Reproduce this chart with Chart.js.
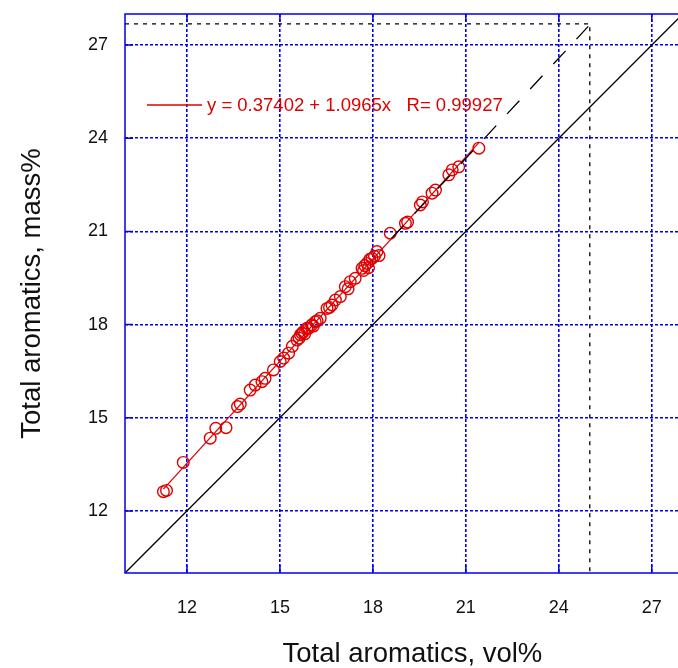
<!DOCTYPE html>
<html>
<head>
<meta charset="utf-8">
<script src="https://cdn.jsdelivr.net/npm/chart.js@4.4.0/dist/chart.umd.min.js"></script>
<style>
    html, body { margin: 0; padding: 0; background: #fff; overflow: hidden; }
    canvas { display: block; }
</style>
</head>
<body>
<canvas id="aromaticsChart" width="707" height="668"></canvas>
<script>
// measured samples: total aromatics vol% vs mass%
const volPct = [11.24, 11.34, 11.88, 12.75, 12.93, 13.26, 13.63, 13.72, 14.04, 14.20,
    14.42, 14.52, 14.79, 15.01, 15.12, 15.28, 15.40, 15.55, 15.62, 15.66,
    15.71, 15.76, 15.80, 15.87, 15.92, 16.03, 16.08, 16.14, 16.20, 16.30,
    16.52, 16.60, 16.68, 16.79, 16.95, 17.11, 17.20, 17.27, 17.43, 17.65,
    17.70, 17.74, 17.81, 17.86, 17.90, 17.97, 18.05, 18.13, 18.20, 18.56,
    19.05, 19.12, 19.53, 19.60, 19.91, 20.02, 20.45, 20.56, 20.77, 21.42];
const massPct = [12.62, 12.66, 13.56, 14.34, 14.66, 14.68, 15.36, 15.44, 15.89, 16.05,
    16.16, 16.27, 16.54, 16.81, 16.92, 17.08, 17.30, 17.50, 17.56, 17.67,
    17.72, 17.77, 17.70, 17.88, 17.88, 17.99, 17.95, 18.09, 18.12, 18.20,
    18.52, 18.55, 18.63, 18.79, 18.90, 19.22, 19.15, 19.38, 19.49, 19.81,
    19.74, 19.90, 19.97, 19.83, 20.10, 20.13, 20.20, 20.35, 20.22, 20.94,
    21.26, 21.30, 21.85, 21.95, 22.23, 22.33, 22.82, 22.98, 23.08, 23.68];

// regression line (red) and its extrapolation (black dashed)
const fitX = [11.24, 21.42];
const fitY = [12.70, 23.86];
const extX = [18.6, 24.95];
const extY = [20.77, 27.6];
// dotted guide lines read-off
const guideX = [10, 25, 25];
const guideY = [27.68, 27.68, 10];
// y = x reference
const diagX = [10, 28];
const diagY = [10, 28];

const tickValues = [12, 15, 18, 21, 24, 27];
const fitLabel = 'y = 0.37402 + 1.0965x   R= 0.99927';

const RED = '#e00000';
const BLUE = '#0000ee';
const FONT = "'Liberation Sans', Arial, sans-serif";

const toPoints = (xs, ys) => xs.map((v, i) => ({ x: v, y: ys[i] }));

// frame, inner ticks and the fit legend
const framePlugin = {
    id: 'frame',
    afterDraw(chart) {
        const { ctx, chartArea: a, scales: { x, y } } = chart;
        ctx.save();
        ctx.strokeStyle = BLUE;
        ctx.lineWidth = 1.5;
        ctx.strokeRect(a.left, a.top, a.right - a.left, a.bottom - a.top);
        ctx.beginPath();
        tickValues.forEach(v => {
            const px = x.getPixelForValue(v);
            const py = y.getPixelForValue(v);
            ctx.moveTo(px, a.bottom); ctx.lineTo(px, a.bottom - 8);
            ctx.moveTo(px, a.top); ctx.lineTo(px, a.top + 8);
            ctx.moveTo(a.left, py); ctx.lineTo(a.left + 8, py);
            ctx.moveTo(a.right, py); ctx.lineTo(a.right - 8, py);
        });
        ctx.stroke();

        // legend
        const lx = a.left + 22, ly = a.top + 91;
        ctx.strokeStyle = RED;
        ctx.lineWidth = 1.3;
        ctx.beginPath();
        ctx.moveTo(lx, ly); ctx.lineTo(lx + 55, ly);
        ctx.stroke();
        ctx.fillStyle = RED;
        ctx.font = '18.5px ' + FONT;
        ctx.textBaseline = 'middle';
        ctx.fillText(fitLabel, lx + 60, ly + 1);
        ctx.restore();
    }
};

const noPad = s => {
    s.paddingLeft = 0; s.paddingRight = 0;
    s.paddingTop = 0; s.paddingBottom = 0;
};

new Chart(document.getElementById('aromaticsChart').getContext('2d'), {
    type: 'scatter',
    data: {
        datasets: [
            {
                data: toPoints(extX, extY),
                showLine: true,
                borderColor: '#000',
                borderWidth: 1.3,
                borderDash: [18, 16],
                pointRadius: 0
            },
            {
                data: toPoints(volPct, massPct),
                showLine: false,
                pointStyle: 'circle',
                pointRadius: 5.8,
                borderColor: RED,
                backgroundColor: 'rgba(0,0,0,0)',
                borderWidth: 1.4
            },
            {
                data: toPoints(fitX, fitY),
                showLine: true,
                borderColor: RED,
                borderWidth: 1.3,
                pointRadius: 0
            },
            {
                data: toPoints(guideX, guideY),
                showLine: true,
                borderColor: '#000',
                borderWidth: 1.3,
                borderDash: [4, 5],
                pointRadius: 0
            },
            {
                data: toPoints(diagX, diagY),
                showLine: true,
                borderColor: '#000',
                borderWidth: 1.3,
                pointRadius: 0
            }
        ]
    },
    options: {
        responsive: false,
        animation: false,
        layout: {
            padding: { top: 14, right: 1, left: 0, bottom: 0 }
        },
        plugins: {
            legend: { display: false },
            tooltip: { enabled: false }
        },
        scales: {
            x: {
                type: 'linear',
                min: 10,
                max: 28.55,
                afterBuildTicks: s => { s.ticks = tickValues.map(v => ({ value: v })); },
                afterFit: s => { s.height = 95; noPad(s); },
                grid: { color: BLUE, lineWidth: 1.6, drawTicks: false },
                border: { display: false, dash: [3, 2] },
                ticks: { color: '#111', padding: 24, font: { size: 18, family: FONT } },
                title: {
                    display: true,
                    text: 'Total aromatics, vol%',
                    color: '#111',
                    padding: { top: 0, bottom: 0 },
                    font: { size: 27.5, family: FONT, lineHeight: 1 }
                }
            },
            y: {
                type: 'linear',
                min: 10,
                max: 28,
                afterBuildTicks: s => { s.ticks = tickValues.map(v => ({ value: v })); },
                afterFit: s => { s.width = 125; noPad(s); },
                grid: { color: BLUE, lineWidth: 1.6, drawTicks: false },
                border: { display: false, dash: [3, 2] },
                ticks: { color: '#111', padding: 17, font: { size: 18, family: FONT } },
                title: {
                    display: true,
                    text: 'Total aromatics, mass%',
                    color: '#111',
                    padding: { top: 19, bottom: 0 },
                    font: { size: 27.5, family: FONT, lineHeight: 1 }
                }
            }
        }
    },
    plugins: [framePlugin]
});
</script>
</body>
</html>
